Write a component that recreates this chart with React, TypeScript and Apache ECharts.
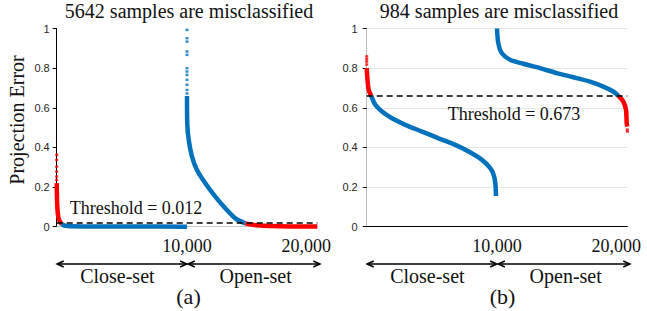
import React, { useEffect, useRef } from 'react';
import * as echarts from 'echarts';

// ---- ticks / labels ----
const xTickValues = [0, 10000, 20000];
const yTickValues = [0, 0.2, 0.4, 0.6, 0.8, 1];
const panelTitles = ['5642 samples are misclassified', '984 samples are misclassified'];
const panelTags = ['(a)', '(b)'];
const setNames = ['Close-set', 'Open-set'];
const thresholdValues = [0.012, 0.673];
const thresholdLineLevels = [0.024, 0.662];
const yAxisTitle = 'Projection Error';

// ---- panel (a) ----
const aCloseRedDots = [[0, 0.362], [0, 0.337], [0, 0.303], [0, 0.278], [0, 0.253], [0, 0.236]];
const aCloseRed = [[0, 0.22], [46, 0.1], [123, 0.05], [253, 0.025], [384, 0.014]];
const aCloseBlue = [[384, 0.014], [506, 0.008], [700, 0.004], [1020, 0.002], [3000, 0.001], [6000, 0.0005], [10000, 0.0003]];
const aOpenBlueDots = [[10000, 0.993], [10000, 0.951], [10000, 0.934], [10000, 0.884], [10000, 0.867], [10000, 0.8], [10000, 0.783], [10000, 0.766], [10000, 0.741], [10000, 0.716], [10000, 0.69], [10000, 0.672]];
const aOpenBlue = [[10000, 0.66], [10020, 0.52], [10131, 0.438], [10384, 0.354], [10768, 0.286], [11405, 0.219], [12173, 0.152], [12940, 0.093], [13708, 0.042], [14475, 0.017]];
const aOpenRed = [[14475, 0.017], [14800, 0.012], [15350, 0.007], [16370, 0.003], [18000, 0.001], [20000, 0.0005]];

// ---- panel (b) ----
const bCloseRedDots = [[0, 0.859], [0, 0.845], [0, 0.833], [0, 0.818]];
const bCloseRed = [[0, 0.8], [40, 0.758], [154, 0.69], [353, 0.66]];
const bCloseBlue = [[353, 0.66], [660, 0.615], [1174, 0.581], [1942, 0.547], [2963, 0.514], [4244, 0.48], [5526, 0.446], [6800, 0.413], [7829, 0.379], [8849, 0.337], [9486, 0.295], [9748, 0.261], [9870, 0.219], [9924, 0.155]];
const bOpenBlue = [[10000, 1.0], [10100, 0.926], [10361, 0.876], [10998, 0.842], [12019, 0.822], [13301, 0.8], [14583, 0.775], [15857, 0.754], [17139, 0.732], [18159, 0.707], [18927, 0.682], [19310, 0.66]];
const bOpenRed = [[19310, 0.66], [19694, 0.631], [19901, 0.589], [19955, 0.522], [20000, 0.505]];
const bOpenRedDots = [[20000, 0.49], [20000, 0.48]];

const BLUE = '#0072BD';
const RED = '#FF0000';
const SERIF = '"Liberation Serif", "Times New Roman", serif';
const SANS = '"Liberation Sans", Arial, sans-serif';

const GRID_TOP = 28.5;
const GRID_H = 198.2;
const GRID_W = 260.6;
const GRID_LEFTS = [56.7, 366.7];

const fmtX = (v: number) => v.toLocaleString('en-US');

function buildAxes(panel: number) {
  const leftColor = panel === 0 ? '#000' : '#bdbdbd';
  const topColor = panel === 0 ? '#c8c8c8' : '#000';
  const rightColor = panel === 0 ? '#000' : '#bdbdbd';
  const xMin = xTickValues[0];
  const xMax = xTickValues[xTickValues.length - 1];
  const xInt = xTickValues[1] - xTickValues[0];
  const yMin = yTickValues[0];
  const yMax = yTickValues[yTickValues.length - 1];
  const yInt = yTickValues[1] - yTickValues[0];
  const xAxes = [
    {
      type: 'value', gridIndex: panel, position: 'bottom', min: xMin, max: xMax, interval: xInt,
      axisLine: { show: true, lineStyle: { color: '#c8c8c8', width: 1 } },
      axisTick: { show: false }, splitLine: { show: false },
      axisLabel: {
        show: true, margin: 10, color: '#111', fontFamily: SERIF, fontSize: 18,
        formatter: (v: number) => (v === xMin ? '' : v === xMax ? '{m|' + fmtX(v) + '}' : fmtX(v)),
        rich: { m: { fontFamily: SERIF, fontSize: 18, color: '#111', padding: [0, 22, 0, 0] } },
      },
    },
    {
      type: 'value', gridIndex: panel, position: 'top', min: xMin, max: xMax, interval: xInt,
      axisLine: { show: true, lineStyle: { color: topColor, width: 1 } },
      axisTick: { show: false }, axisLabel: { show: false }, splitLine: { show: false },
    },
  ];
  const yAxes = [
    {
      type: 'value', gridIndex: panel, position: 'left', min: yMin, max: yMax, interval: yInt,
      axisLine: { show: true, lineStyle: { color: leftColor, width: 1 } },
      axisTick: { show: false },
      axisLabel: { show: true, margin: panel === 0 ? 7 : 9, color: '#262626', fontFamily: SANS, fontSize: 11 },
      splitLine: { show: panel === 1, lineStyle: { color: '#e6e6e6', width: 1 } },
    },
    {
      type: 'value', gridIndex: panel, position: 'right', min: yMin, max: yMax, interval: yInt,
      axisLine: { show: true, lineStyle: { color: rightColor, width: 1 } },
      axisTick: { show: true, inside: true, length: 4, lineStyle: { color: '#000', width: 1 } },
      axisLabel: { show: false }, splitLine: { show: false },
    },
  ];
  return { xAxes, yAxes };
}

function lineSeries(panel: number, data: number[][], color: string, z: number, extra: any = {}) {
  return {
    type: 'line', xAxisIndex: panel * 2, yAxisIndex: panel * 2, data,
    showSymbol: false, symbol: 'none', smooth: 0.3,
    lineStyle: { color, width: 4.5 }, z, silent: true, ...extra,
  };
}

function dotSeries(panel: number, data: number[][], color: string, z: number) {
  return {
    type: 'scatter', xAxisIndex: panel * 2, yAxisIndex: panel * 2, data,
    symbol: 'rect', symbolSize: [3, 2.5], itemStyle: { color }, z, silent: true,
  };
}

function thresholdLine(panel: number) {
  return {
    silent: true, symbol: 'none', label: { show: false },
    lineStyle: { color: '#000', type: [6, 4], width: 1.5 },
    data: [{ yAxis: thresholdLineLevels[panel] }],
  };
}

export default function App() {
  const ref = useRef<HTMLDivElement>(null);
  useEffect(() => {
    document.body.style.margin = '0';
    if (!ref.current) return;
    const chart = echarts.init(ref.current, null, { renderer: 'svg' });
    const a0 = buildAxes(0);
    const a1 = buildAxes(1);
    chart.setOption({
      animation: false,
      backgroundColor: '#fff',
      grid: GRID_LEFTS.map((l) => ({ left: l, top: GRID_TOP, width: GRID_W, height: GRID_H, containLabel: false })),
      xAxis: [...a0.xAxes, ...a1.xAxes],
      yAxis: [...a0.yAxes, ...a1.yAxes],
      series: [
        lineSeries(0, aCloseRed, RED, 3),
        lineSeries(0, aCloseBlue, BLUE, 3),
        lineSeries(0, aOpenBlue, BLUE, 3, { markLine: thresholdLine(0) }),
        lineSeries(0, aOpenRed, RED, 4),
        dotSeries(0, aCloseRedDots, RED, 4),
        dotSeries(0, aOpenBlueDots, BLUE, 4),
        lineSeries(1, bCloseRed, RED, 4),
        lineSeries(1, bCloseBlue, BLUE, 3),
        lineSeries(1, bOpenBlue, BLUE, 3, { markLine: thresholdLine(1) }),
        lineSeries(1, bOpenRed, RED, 4),
        dotSeries(1, bCloseRedDots, RED, 4),
        dotSeries(1, bOpenRedDots, RED, 4),
      ],
    });

    const graphic: any[] = [];
    const arrowY = 264;
    const head = (x: number, dir: number) => ({
      type: 'polyline',
      shape: { points: [[x + dir * 6.5, arrowY - 3], [x, arrowY], [x + dir * 6.5, arrowY + 3]] },
      style: { stroke: '#000', lineWidth: 1.6, fill: 'none' },
      z: 10,
    });
    const text = (t: string, x: number, y: number, size: number, extra: any = {}) => ({
      type: 'text', x, y, z: 10,
      style: { text: t, font: `${size}px ${SERIF}`, fill: '#111', align: 'center', verticalAlign: 'middle' },
      ...extra,
    });

    [0, 1].forEach((p) => {
      const x0 = chart.convertToPixel({ xAxisIndex: p * 2, yAxisIndex: p * 2 } as any, [xTickValues[0], 0]) as number[];
      const xm = chart.convertToPixel({ xAxisIndex: p * 2, yAxisIndex: p * 2 } as any, [xTickValues[1], 0]) as number[];
      const x1 = chart.convertToPixel({ xAxisIndex: p * 2, yAxisIndex: p * 2 } as any, [xTickValues[2], 0]) as number[];
      const L = x0[0] + 0.5;
      const M = xm[0] + 0.5;
      const R = x1[0] + 2.5;
      graphic.push({ type: 'line', shape: { x1: L, y1: arrowY, x2: M - 0.8, y2: arrowY }, style: { stroke: '#000', lineWidth: 1.6 }, z: 10 });
      graphic.push({ type: 'line', shape: { x1: M + 0.8, y1: arrowY, x2: R, y2: arrowY }, style: { stroke: '#000', lineWidth: 1.6 }, z: 10 });
      graphic.push(head(L, 1), head(M - 0.8, -1), head(M + 0.8, 1), head(R, -1));
      graphic.push(text(setNames[0], (L + M) / 2 - 5, 275.5, 20));
      graphic.push(text(setNames[1], (M + R) / 2 + 2, 275.5, 20));
      graphic.push(text(panelTags[p], M + (p === 0 ? 1 : 5), 296, 22));
      graphic.push(text(panelTitles[p], (x0[0] + x1[0]) / 2 + 2, 11, 20));
    });
    graphic.push(text('Threshold = ' + thresholdValues[0].toFixed(3), 136, 207.5, 18));
    graphic.push(text('Threshold = ' + thresholdValues[1].toFixed(3), 514, 114, 18));
    graphic.push(text(yAxisTitle, 16.5, 120, 20, { rotation: Math.PI / 2 }));

    chart.setOption({ graphic });
    return () => chart.dispose();
  }, []);
  return <div ref={ref} style={{ width: 647, height: 311 }} />;
}
